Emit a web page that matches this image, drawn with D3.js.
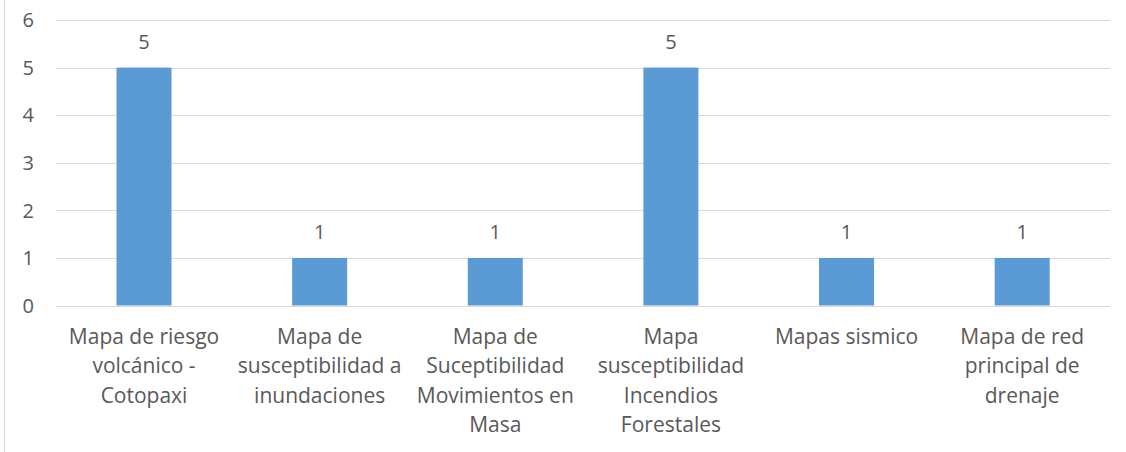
<!DOCTYPE html>
<html>
<head>
<meta charset="utf-8">
<script src="https://cdn.jsdelivr.net/npm/d3@7"></script>
<style>
  body { margin: 0; background: #fff; }
  text { font-family: "Open Sans", sans-serif; fill: #595959; }
</style>
</head>
<body>
<svg id="chart" width="1126" height="452"></svg>
<script>
var categories = [
  "Mapa de riesgo volcánico - Cotopaxi",
  "Mapa de susceptibilidad a inundaciones",
  "Mapa de Suceptibilidad Movimientos en Masa",
  "Mapa susceptibilidad Incendios Forestales",
  "Mapas sismico",
  "Mapa de red principal de drenaje"
];
var values = [5, 1, 1, 5, 1, 1];
var categoryLines = [
  ["Mapa de riesgo", "volcánico -", "Cotopaxi"],
  ["Mapa de", "susceptibilidad a", "inundaciones"],
  ["Mapa de", "Suceptibilidad", "Movimientos en", "Masa"],
  ["Mapa", "susceptibilidad", "Incendios", "Forestales"],
  ["Mapas sismico"],
  ["Mapa de red", "principal de", "drenaje"]
];
var yTicks = [0, 1, 2, 3, 4, 5, 6];

var svg = d3.select('#chart');

// outer frame edge on the left
svg.append('line')
  .attr('x1', 4.5).attr('x2', 4.5)
  .attr('y1', 0).attr('y2', 452)
  .attr('stroke', '#d9d9d9');

var x = d3.scaleBand()
  .domain(categories)
  .range([56.2, 1110])
  .paddingInner(0)
  .paddingOuter(0);

var y = d3.scaleLinear()
  .domain([0, 6])
  .range([305.5, 20]);

// gridlines
svg.append('g')
  .selectAll('line')
  .data(yTicks)
  .enter().append('line')
  .attr('x1', 56.2).attr('x2', 1110)
  .attr('y1', function(d) { return Math.round(y(d)) + 0.5; })
  .attr('y2', function(d) { return Math.round(y(d)) + 0.5; })
  .attr('stroke', '#d9d9d9')
  .attr('stroke-width', 1);

// y tick labels
svg.append('g')
  .selectAll('text')
  .data(yTicks)
  .enter().append('text')
  .attr('x', 34)
  .attr('y', function(d) { return y(d); })
  .attr('dy', '0.36em')
  .attr('text-anchor', 'end')
  .style('font-size', '20px')
  .text(function(d) { return d; });

var barW = 55;

// bars
svg.append('g')
  .selectAll('rect')
  .data(values)
  .enter().append('rect')
  .attr('x', function(d, i) { return x(categories[i]) + x.bandwidth() / 2 - barW / 2; })
  .attr('y', function(d) { return y(d); })
  .attr('width', barW)
  .attr('height', function(d) { return y(0) - y(d); })
  .attr('fill', '#5b9bd5');

// value labels
svg.append('g')
  .selectAll('text')
  .data(values)
  .enter().append('text')
  .attr('x', function(d, i) { return x(categories[i]) + x.bandwidth() / 2; })
  .attr('y', function(d) { return y(d) - 18.5; })
  .attr('text-anchor', 'middle')
  .style('font-size', '20px')
  .text(function(d) { return d; });

// category labels
var cat = svg.append('g')
  .selectAll('text')
  .data(categoryLines)
  .enter().append('text')
  .attr('text-anchor', 'middle')
  .style('font-size', '21px')
  .attr('transform', function(d, i) {
    return 'translate(' + (x(categories[i]) + x.bandwidth() / 2) + ',344)';
  });

cat.selectAll('tspan')
  .data(function(d) { return d; })
  .enter().append('tspan')
  .attr('x', 0)
  .attr('y', function(d, j) { return j * 29.3; })
  .text(function(d) { return d; });
</script>
</body>
</html>
